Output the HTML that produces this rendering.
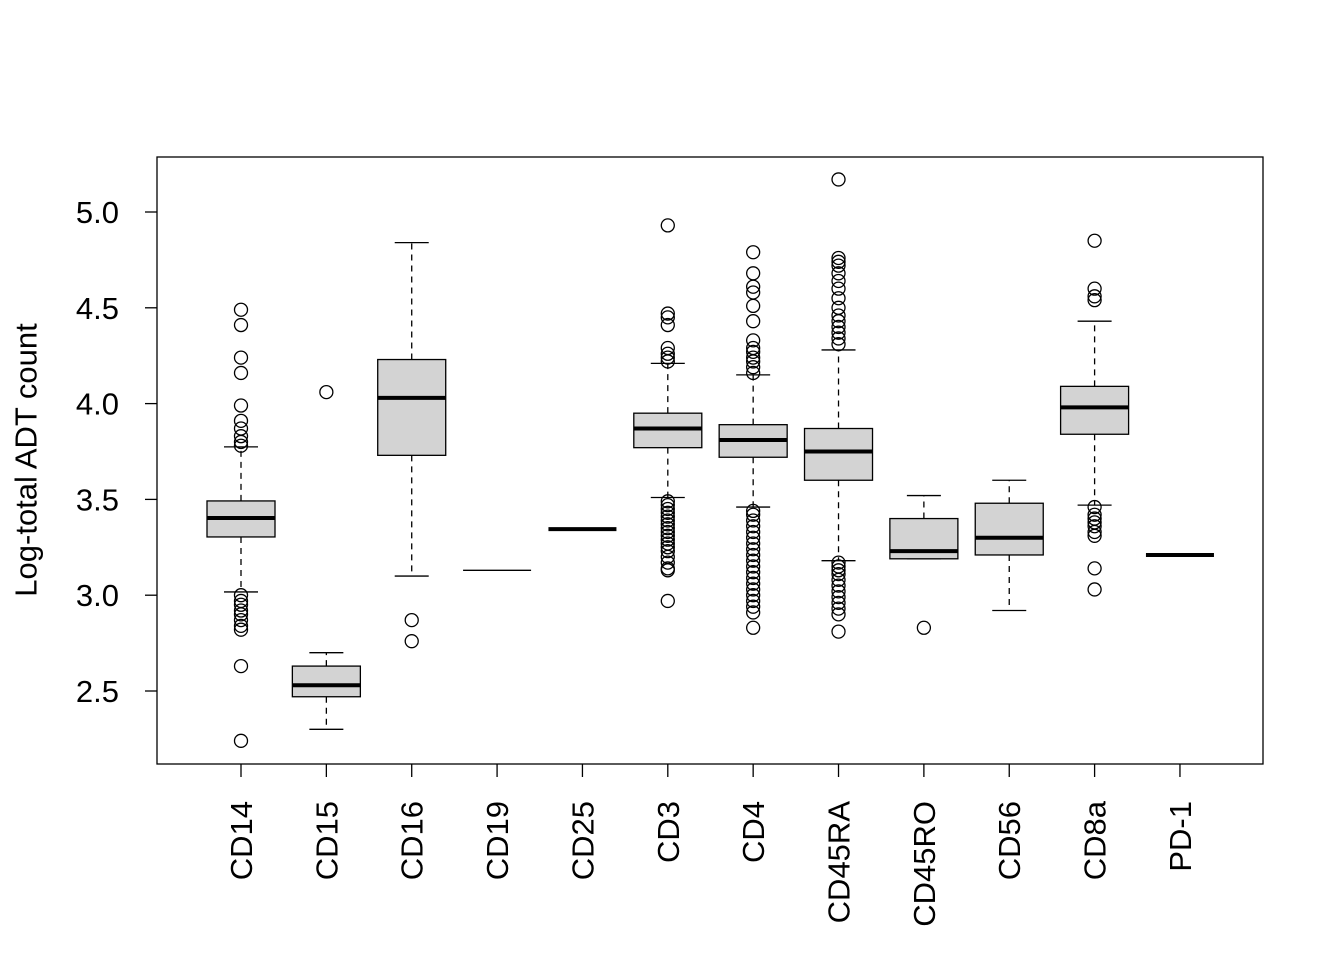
<!DOCTYPE html>
<html><head><meta charset="utf-8"><style>
body{margin:0;background:#fff}
svg text{font-family:"Liberation Sans",Arial,sans-serif;fill:#000}
</style></head><body>
<svg id="chart" width="1344" height="960">
<rect x="157" y="157" width="1106" height="607" fill="none" stroke="#000" stroke-width="1.3"/>
<text transform="translate(26,460) rotate(-90)" text-anchor="middle" dominant-baseline="central" font-size="31">Log-total ADT count</text>
</svg>
<script>
const categories=["CD14","CD15","CD16","CD19","CD25","CD3","CD4","CD45RA","CD45RO","CD56","CD8a","PD-1"];
const q1s=[3.304,2.47,3.73,3.13,3.345,3.77,3.72,3.60,3.19,3.21,3.84,3.21];
const medians=[3.403,2.53,4.03,3.13,3.345,3.87,3.81,3.75,3.23,3.30,3.98,3.21];
const q3s=[3.492,2.63,4.23,3.13,3.345,3.95,3.89,3.87,3.40,3.48,4.09,3.21];
const whiskerLow=[3.017,2.30,3.10,3.13,3.345,3.51,3.46,3.18,3.19,2.92,3.47,3.21];
const whiskerHigh=[3.774,2.70,4.84,3.13,3.345,4.21,4.15,4.28,3.52,3.60,4.43,3.21];
const outliers=[
[4.49,4.41,4.24,4.16,3.99,3.91,3.87,3.83,3.80,3.78,3.00,2.97,2.95,2.92,2.90,2.87,2.84,2.82,2.63,2.24],
[4.06],
[2.87,2.76],
[],[],
[4.93,4.47,4.45,4.41,4.29,4.26,4.24,4.22,3.49,3.47,3.45,3.43,3.41,3.39,3.37,3.35,3.33,3.31,3.29,3.27,3.25,3.23,3.20,3.17,3.14,3.13,2.97],
[4.79,4.68,4.61,4.58,4.51,4.43,4.33,4.29,4.27,4.24,4.22,4.19,4.16,3.44,3.42,3.39,3.36,3.33,3.30,3.27,3.24,3.21,3.18,3.15,3.12,3.09,3.06,3.03,3.00,2.97,2.94,2.91,2.83],
[5.17,4.76,4.74,4.72,4.68,4.64,4.60,4.55,4.50,4.46,4.43,4.40,4.37,4.34,4.31,3.17,3.15,3.13,3.11,3.08,3.05,3.02,2.99,2.96,2.93,2.90,2.81],
[2.83],
[],
[4.85,4.60,4.56,4.54,3.46,3.42,3.40,3.38,3.36,3.33,3.31,3.14,3.03],
[]];
const yTicks=[2.5,3.0,3.5,4.0,4.5,5.0];
const yLabels=["2.5","3.0","3.5","4.0","4.5","5.0"];
const NS="http://www.w3.org/2000/svg";
const svg=document.getElementById('chart');
const y=v=>212+(5.0-v)*191.6;
const x=i=>241+i*85.36;
const hw=34;
function mk(t,a,parent){const e=document.createElementNS(NS,t);for(const k in a)e.setAttribute(k,a[k]);(parent||svg).appendChild(e);return e;}
yTicks.forEach((v,i)=>{
 const l=mk('line',{x1:145,x2:157,y1:y(v),y2:y(v),stroke:'#000','stroke-width':1.3});
 
 
 const t=mk('text',{x:119,y:y(v)+11,'text-anchor':'end','font-size':31});
 t.textContent=yLabels[i];
 
 
});
categories.forEach((c,i)=>{
 const cx=x(i);
 const g=mk('g',{});
 
 
 const flat=q1s[i]===q3s[i];
 if(!flat){
  mk('line',{x1:cx,x2:cx,y1:y(q3s[i]),y2:y(whiskerHigh[i]),stroke:'#000','stroke-width':1.3,'stroke-dasharray':'6,5'},g);
  mk('line',{x1:cx,x2:cx,y1:y(q1s[i]),y2:y(whiskerLow[i]),stroke:'#000','stroke-width':1.3,'stroke-dasharray':'6,5'},g);
  mk('line',{x1:cx-17,x2:cx+17,y1:y(whiskerHigh[i]),y2:y(whiskerHigh[i]),stroke:'#000','stroke-width':1.3},g);
  mk('line',{x1:cx-17,x2:cx+17,y1:y(whiskerLow[i]),y2:y(whiskerLow[i]),stroke:'#000','stroke-width':1.3},g);
  mk('rect',{x:cx-hw,y:y(q3s[i]),width:2*hw,height:y(q1s[i])-y(q3s[i]),fill:'#d3d3d3',stroke:'#000','stroke-width':1.3},g);
 }
 const thin=(c==="CD19");
 mk('line',{x1:cx-hw,x2:cx+hw,y1:y(medians[i]),y2:y(medians[i]),stroke:'#000','stroke-width':thin?1.3:4},g);
 outliers[i].forEach(v=>{
  const p=mk('circle',{cx:cx,cy:y(v),r:6.5,fill:'none',stroke:'#000','stroke-width':1.3},g);
  
  
 });
 const tk=mk('line',{x1:cx,x2:cx,y1:764,y2:777,stroke:'#000','stroke-width':1.3});
 
 
 const t=mk('text',{transform:`translate(${cx+11},801) rotate(-90)`,'text-anchor':'end','font-size':31});
 t.textContent=c;
 
 
});
</script>
</body></html>
